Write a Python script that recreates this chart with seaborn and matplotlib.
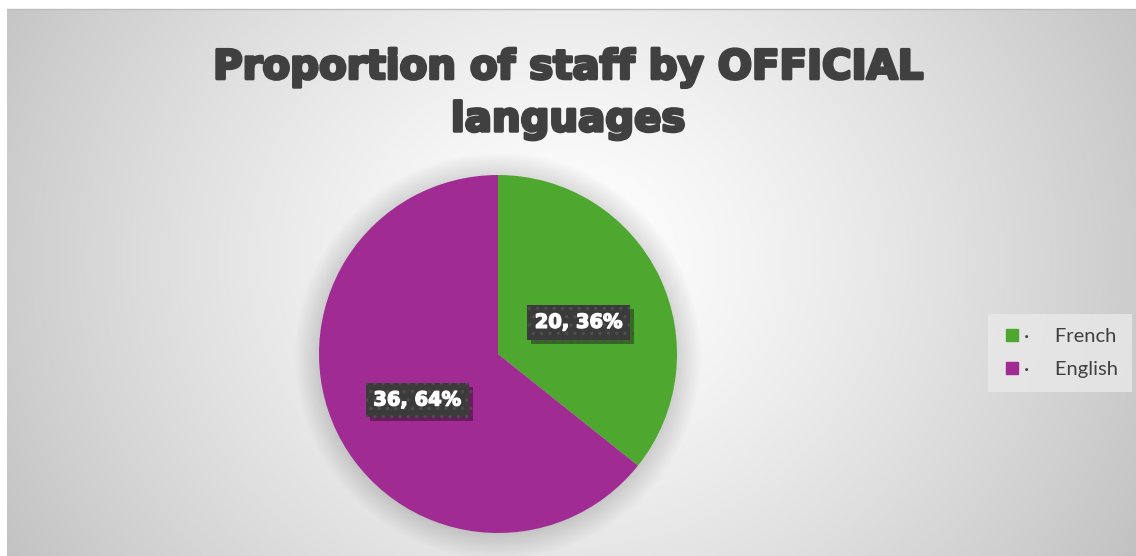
import numpy as np
import matplotlib
matplotlib.use("Agg")
import matplotlib.pyplot as plt
import matplotlib.patheffects as pe
from matplotlib.lines import Line2D
from matplotlib.patches import Circle
import seaborn as sns

# Data
languages = ["French", "English"]
staff_counts = [20, 36]
slice_colors = ["#4EA72E", "#A02B93"]
title_text = "Proportion of staff by OFFICIAL\nlanguages"

sns.set_theme(style="white")
plt.rcParams["font.family"] = ["Lato", "DejaVu Sans"]
plt.rcParams["hatch.linewidth"] = 1.2

W, H, DPI = 1136, 556, 100
fig = plt.figure(figsize=(W / DPI, H / DPI), dpi=DPI)
fig.patch.set_facecolor("white")

# Chart area with a soft radial gradient background
bg_left, bg_top = 7, 9
bg_ax = fig.add_axes([bg_left / W, 0, 1 - bg_left / W, 1 - bg_top / H])
bw, bh = W - bg_left, H - bg_top
yy, xx = np.mgrid[0:bh, 0:bw]
cx, cy = 560, 250
d = np.hypot(xx - cx, (yy - cy) / 0.9)
d = d / d.max()
val = 1.0 - 0.24 * d ** 1.3
img = np.dstack([val, val, val])
bg_ax.imshow(img, aspect="auto", extent=[0, 1, 0, 1], origin="upper")
bg_ax.set_axis_off()
fig.add_artist(Line2D([bg_left / W, 1], [1 - bg_top / H] * 2,
                      color="#bdbdbd", lw=1.0))

# Pie axes, sized so that the unit circle fills it
pcx, pcy, r = 498, 354, 179
ax = fig.add_axes([(pcx - r) / W, (H - pcy - r) / H, 2 * r / W, 2 * r / H])

# Soft shadow around the pie
for k in range(12):
    ax.add_patch(Circle((0.0, -0.01), 1.0 + 0.012 * k, color="#000000",
                        alpha=0.012, lw=0, zorder=0, clip_on=False))

total = sum(staff_counts)


def fmt(pct):
    n = int(round(pct * total / 100.0))
    return f"{n}, {pct:.0f}%"


heavy_font = "DejaVu Sans"

wedges, texts, autotexts = ax.pie(
    staff_counts, colors=slice_colors, startangle=90, counterclock=False,
    autopct=fmt, pctdistance=0.5,
    wedgeprops=dict(linewidth=0),
    textprops=dict(color="white", fontsize=14, fontweight="bold",
                   family=heavy_font),
)
for w in wedges:
    w.set_zorder(2)

for t in autotexts:
    x, y = t.get_position()
    t.set_position((x, y - 0.04))
    t.set_zorder(5)
    t.set_path_effects([pe.withStroke(linewidth=1.0, foreground="white")])
    t.set_bbox(dict(boxstyle="square,pad=0.4", facecolor="#3b3b3b",
                    edgecolor="#4e4e4e", linewidth=0, hatch=".."))
    t.get_bbox_patch().set_path_effects([
        pe.SimplePatchShadow(offset=(3, -3), shadow_rgbFace="#000000", alpha=0.35),
        pe.Normal(),
    ])

ax.set_xlim(-1, 1)
ax.set_ylim(-1, 1)
ax.set_axis_off()

# Title
fig.text(0.5, 1 - 94 / H, title_text, ha="center", va="center",
         fontsize=29, fontweight="bold", family=heavy_font, color="#404040",
         linespacing=1.4,
         path_effects=[pe.withStroke(linewidth=2.2, foreground="#404040")])

# Legend
handles = [Line2D([0], [0], marker="s", linestyle="none", markersize=8,
                  markerfacecolor=c, markeredgecolor=c) for c in slice_colors]
labels = [f"\u00b7     {name}" for name in languages]
leg = fig.legend(handles, labels, loc="center left",
                 bbox_to_anchor=(988 / W, 1 - 353 / H),
                 frameon=True, fontsize=14.5, handletextpad=0.1,
                 labelspacing=0.8, borderpad=0.7, handlelength=1.0,
                 borderaxespad=0, fancybox=False)
leg.get_frame().set_facecolor("#e9e9e9")
leg.get_frame().set_edgecolor("none")
leg.get_frame().set_alpha(0.8)
for t in leg.get_texts():
    t.set_color("#404040")

fig.savefig("out.png", dpi=DPI)
